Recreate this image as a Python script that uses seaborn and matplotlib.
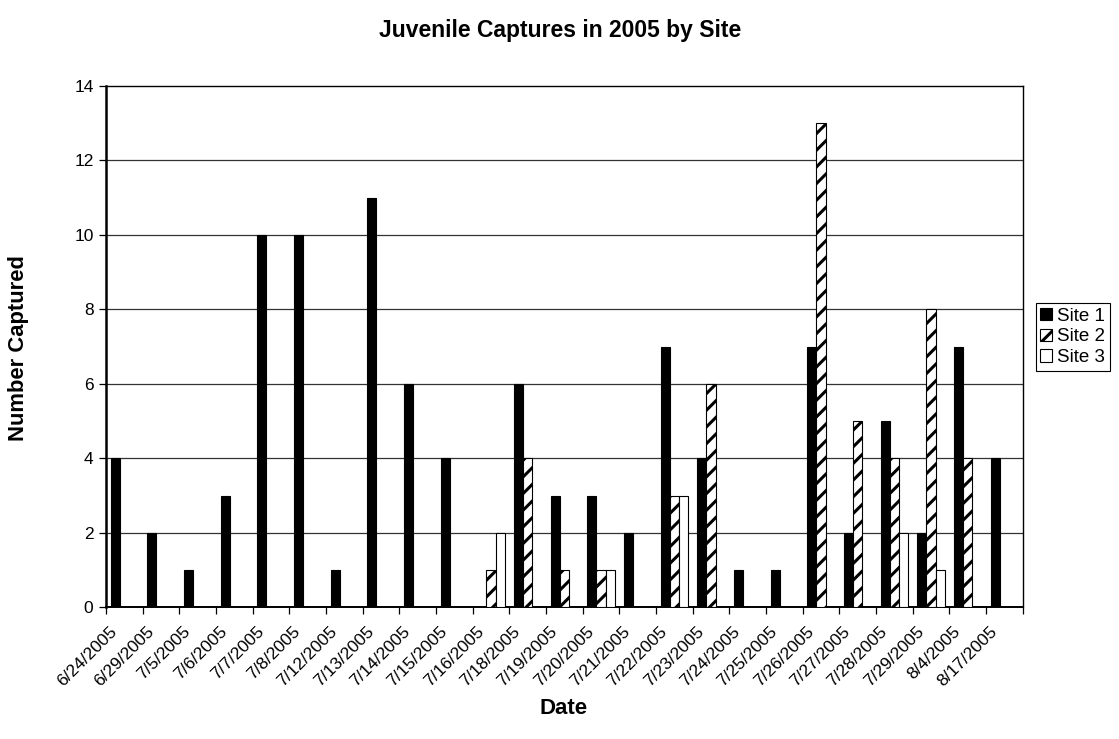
import matplotlib
matplotlib.use("Agg")
import matplotlib.pyplot as plt
import matplotlib.transforms as mtransforms
from matplotlib.patches import Patch
import seaborn as sns
import pandas as pd

dates = ["6/24/2005", "6/29/2005", "7/5/2005", "7/6/2005", "7/7/2005", "7/8/2005",
         "7/12/2005", "7/13/2005", "7/14/2005", "7/15/2005", "7/16/2005", "7/18/2005",
         "7/19/2005", "7/20/2005", "7/21/2005", "7/22/2005", "7/23/2005", "7/24/2005",
         "7/25/2005", "7/26/2005", "7/27/2005", "7/28/2005", "7/29/2005", "8/4/2005",
         "8/17/2005"]
site1 = [4, 2, 1, 3, 10, 10, 1, 11, 6, 4, 0, 6, 3, 3, 2, 7, 4, 1, 1, 7, 2, 5, 2, 7, 4]
site2 = [0, 0, 0, 0, 0, 0, 0, 0, 0, 0, 1, 4, 1, 1, 0, 3, 6, 0, 0, 13, 5, 4, 8, 4, 0]
site3 = [0, 0, 0, 0, 0, 0, 0, 0, 0, 0, 2, 0, 0, 1, 0, 3, 0, 0, 0, 0, 0, 2, 1, 0, 0]
sites = ["Site 1", "Site 2", "Site 3"]
yticks = [0, 2, 4, 6, 8, 10, 12, 14]

rows = []
for name, vals in zip(sites, [site1, site2, site3]):
    for d, v in zip(dates, vals):
        rows.append({"Date": d, "Site": name, "Captured": v})
df = pd.DataFrame(rows)

sns.set_theme(style="white")
plt.rcParams["font.family"] = ["Liberation Sans", "DejaVu Sans"]
plt.rcParams["text.color"] = "black"
plt.rcParams["axes.labelcolor"] = "black"
plt.rcParams["xtick.color"] = "black"
plt.rcParams["ytick.color"] = "black"
plt.rcParams["hatch.linewidth"] = 2.2
plt.rcParams["hatch.color"] = "black"

W, H = 1119, 739
fig = plt.figure(figsize=(W / 100, H / 100), dpi=100)
left, right, top, bottom = 106, 1022.7, 86, 607.3
ax = fig.add_axes([left / W, 1 - bottom / H, (right - left) / W, (bottom - top) / H])

fills = ["black", "white", "white"]
sns.barplot(data=df, x="Date", y="Captured", hue="Site", order=dates,
            hue_order=sites, palette=fills, edgecolor="black", linewidth=0.8,
            width=0.75, dodge=True, saturation=1, legend=False, ax=ax, zorder=3)

for bar in ax.containers[1]:
    bar.set_hatch("//")

ax.set_xlim(-0.5, len(dates) - 0.5)
ax.set_ylim(0, 14)
ax.set_yticks(yticks)
ax.set_yticklabels([str(t) for t in yticks], fontsize=12.5, color="black")
for y in yticks[1:-1]:
    ax.axhline(y, color="#333333", linewidth=0.9, zorder=1)

ax.set_xticks([i - 0.5 for i in range(len(dates) + 1)], minor=True)
ax.tick_params(axis="x", which="major", length=0, pad=9)
ax.tick_params(axis="x", which="minor", length=5, width=0.9, color="black",
               direction="out", bottom=True)
ax.tick_params(axis="y", which="major", length=5, width=0.9, color="black",
               direction="out", left=True, pad=4)

ax.set_xticks(range(len(dates)))
ax.set_xticklabels(dates, rotation=45, ha="right", rotation_mode="anchor",
                   fontsize=12.5, color="black")
# nudge the slanted date labels so their ends sit left of each category centre
shift = mtransforms.ScaledTranslation(-15 / 100, -4 / 100, fig.dpi_scale_trans)
for lbl in ax.get_xticklabels():
    lbl.set_transform(lbl.get_transform() + shift)

for s in ax.spines.values():
    s.set_visible(True)
    s.set_color("black")
    s.set_linewidth(1.0)
ax.spines["left"].set_linewidth(1.8)
ax.spines["bottom"].set_linewidth(1.4)

ax.set_xlabel("")
ax.set_ylabel("")

fig.text(560 / W, 1 - 30 / H, "Juvenile Captures in 2005 by Site", ha="center",
         va="center", fontsize=16.5, fontweight="bold", color="black")
fig.text(19 / W, 1 - 348 / H, "Number Captured", ha="center", va="center",
         rotation=90, fontsize=15.8, fontweight="bold", color="black")
fig.text(564 / W, 1 - 708 / H, "Date", ha="center", va="center",
         fontsize=16, fontweight="bold", color="black")

handles = [Patch(facecolor="black", edgecolor="black", linewidth=0.8),
           Patch(facecolor="white", edgecolor="black", hatch="//", linewidth=0.8),
           Patch(facecolor="white", edgecolor="black", linewidth=0.8)]
leg = fig.legend(handles, sites, loc="upper left",
                 bbox_to_anchor=(1035.5 / W, 1 - 303 / H), fontsize=13.5,
                 frameon=True, fancybox=False, edgecolor="black", framealpha=1,
                 handlelength=0.65, handleheight=0.65, handletextpad=0.25,
                 labelspacing=0.2, borderpad=0.25, borderaxespad=0)
leg.get_frame().set_linewidth(0.8)
for t in leg.get_texts():
    t.set_color("black")

fig.savefig("out.png", dpi=100, facecolor="white")
